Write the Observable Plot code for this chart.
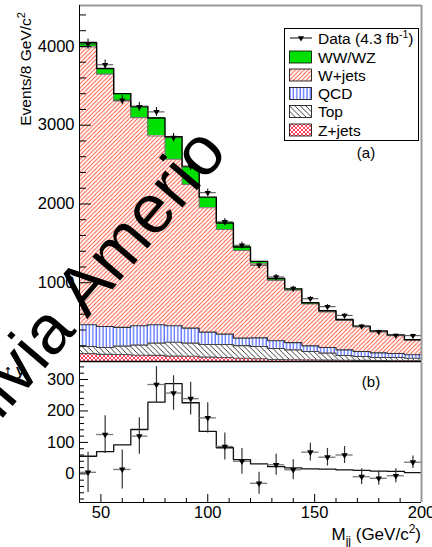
<!DOCTYPE html>
<html><head><meta charset="utf-8">
<script src="https://cdn.jsdelivr.net/npm/d3@7"></script>
<script src="https://cdn.jsdelivr.net/npm/@observablehq/plot@0.6"></script>
<style>
html,body{margin:0;padding:0;background:#fff;}
#wrap{position:relative;width:432px;height:547px;overflow:hidden;font-family:"Liberation Sans",Arial,Helvetica,sans-serif;}
#top,#bot{position:absolute;left:0;}
#top{top:0;}
#bot{top:361px;}
#wm{position:absolute;left:0;top:0;pointer-events:none;}
</style></head><body>
<div id="wrap"><div id="top"></div><div id="bot"></div>
<svg id="wm" width="432" height="547"><text transform="translate(229,153) rotate(-49.5)" text-anchor="end" font-size="69" font-family="Liberation Sans, Arial, sans-serif" fill="#000">Olivia Amerio</text></svg>
</div>
<script>
// ---------------- data ----------------
const binEdges = [40,48,56,64,72,80,88,96,104,112,120,128,136,144,152,160,168,176,184,192,200];
const zJets    = [100, 90, 88, 80, 78, 68, 66, 56, 50, 42, 34, 25, 22, 20, 18, 16, 14, 12, 10, 8];
const topQuark = [91, 88, 107, 128, 155, 176, 167, 160, 166, 159, 157, 140, 126, 107, 88, 60, 50, 39, 41, 34];
const qcd      = [276, 267, 238, 246, 234, 210, 191, 157, 132, 96, 109, 98, 92, 72, 72, 72, 63, 59, 51, 43];
const wJets    = [3528, 3204, 2876, 2643, 2397, 2113, 1825, 1579, 1328, 1112, 939, 767, 665, 531, 452, 372, 311, 268, 226, 188];
const wwwz     = [56, 71, 92, 141, 228, 287, 226, 135, 83, 45, 32, 23, 19, 16, 15, 13, 11, 9, 8, 4];
const dataTop  = [4030, 3767, 3318, 3233, 3169, 2843, 2478, 2143, 1773, 1476, 1222, 1073, 925, 797, 696, 585, 447, 378, 330, 328];
const dataErr  = [64, 61, 58, 57, 56, 53, 50, 46, 42, 38, 35, 33, 30, 28, 26, 24, 21, 19, 18, 18];
const dataSub  = [5, 125, 14, 120, 284, 257, 239, 178, 87, 40, -30, 29, 13, 69, 53, 60, -9, -14, -6, 37];
const dataSubErr = [64, 60, 62, 58, 57, 55, 52, 48, 43, 41, 35, 33, 32, 28, 28, 27, 25, 22, 22, 20];
const yTicksTop = [1000, 2000, 3000, 4000];
const yTicksBot = [0, 100, 200, 300];
const xTicks = [50, 100, 150, 200];

const FONT = '"Liberation Sans", Arial, Helvetica, sans-serif';
const PATTERNS = `
<pattern id="pWJ" patternUnits="userSpaceOnUse" width="4.2" height="4.2">
<path d="M0,4.2 L4.2,0 M-1,1 L1,-1 M3.2,5.2 L5.2,3.2" stroke="#ff4a30" stroke-width="0.9" fill="none"/>
</pattern>
<pattern id="pQCD" patternUnits="userSpaceOnUse" width="3.4" height="4">
<path d="M1,0 L1,4" stroke="#2a48ff" stroke-width="1" fill="none"/>
</pattern>
<pattern id="pTop" patternUnits="userSpaceOnUse" width="5.4" height="5.4">
<path d="M0,0 L5.4,5.4 M-1,4.4 L1,6.4 M4.4,-1 L6.4,1" stroke="#222" stroke-width="0.9" fill="none"/>
</pattern>
<pattern id="pZ" patternUnits="userSpaceOnUse" width="4" height="4">
<path d="M0,0 L4,4 M0,4 L4,0 M-1,1 L1,-1 M3,5 L5,3 M-1,3 L1,5 M3,-1 L5,1" stroke="#ff2040" stroke-width="0.85" fill="none"/>
</pattern>`;
const triDown = {draw(ctx, size){ const s = Math.sqrt(size*4/Math.sqrt(3)); const h = s*Math.sqrt(3)/2;
  ctx.moveTo(-s/2, -h/3); ctx.lineTo(s/2, -h/3); ctx.lineTo(0, 2*h/3); ctx.closePath(); }};

const layers = [
  {name:"Z+jets", values:zJets, fill:"url(#pZ)", stroke:"#555"},
  {name:"Top", values:topQuark, fill:"url(#pTop)", stroke:"#444"},
  {name:"QCD", values:qcd, fill:"url(#pQCD)", stroke:"#333"},
  {name:"W+jets", values:wJets, fill:"url(#pWJ)", stroke:"#777"},
  {name:"WW/WZ", values:wwwz, fill:"#00e000", stroke:"#000"}
];
let base = wwwz.map(() => 0);
const fillMarks = [], lineMarks = [];
for (const L of layers) {
  const rows = L.values.map((v, i) => ({x1: binEdges[i], x2: binEdges[i+1], y1: base[i], y2: base[i] + v}));
  base = rows.map(r => r.y2);
  fillMarks.push(Plot.rect(rows, {x1:"x1", x2:"x2", y1:"y1", y2:"y2", fill:L.fill, shapeRendering:"crispEdges"}));
  const pts = rows.map(r => ({x:r.x1, y:r.y2}));
  pts.push({x: rows[rows.length-1].x2, y: rows[rows.length-1].y2});
  lineMarks.push(Plot.line(pts, {x:"x", y:"y", curve:"step-after", stroke:L.stroke, strokeWidth: L.name==="WW/WZ" ? 1.4 : 1.1}));
}
const topRows = dataTop.map((v, i) => ({x:(binEdges[i]+binEdges[i+1])/2, x1:binEdges[i], x2:binEdges[i+1], y:v, e:dataErr[i]}));
const subRows = dataSub.map((v, i) => ({x:(binEdges[i]+binEdges[i+1])/2, x1:binEdges[i], x2:binEdges[i+1], y:v, e:dataSubErr[i]}));
const wwPts = wwwz.map((v, i) => ({x:binEdges[i], y:v}));
wwPts.push({x: binEdges[binEdges.length-1], y: wwwz[wwwz.length-1]});
const fmt = d3.format("d");

const topPlot = Plot.plot({
  width: 432, height: 362,
  marginLeft: 79, marginRight: 11, marginTop: 5, marginBottom: 1,
  x: {domain: [40, 200], axis: null},
  y: {domain: [0, 4520]},
  style: {fontFamily: FONT, fontSize: "16.5px", background: "white", overflow: "visible", color: "black"},
  marks: [
    ...fillMarks,
    ...lineMarks,
    Plot.ruleY(topRows, {x1:"x1", x2:"x2", y:"y", stroke:"#444", strokeWidth:1}),
    Plot.ruleX(topRows, {x:"x", y1: d => d.y - d.e, y2: d => d.y + d.e, stroke:"#000", strokeWidth:1}),
    Plot.dot(topRows, {x:"x", y:"y", symbol: triDown, r: 2.3, fill:"black", stroke:"none"}),
    Plot.axisY(yTicksTop, {tickSize: -12, tickPadding: 17, anchor: "left", stroke:"black", fill:"black", fontSize: 16.5, tickFormat: fmt}),
    Plot.axisY(d3.range(200, 4520, 200).filter(v => v % 1000), {tickSize: -7, anchor:"left", tickFormat: () => "", stroke:"black"}),
    Plot.ruleX([200], {stroke:"#999", strokeWidth: 2}),
    Plot.ruleY([4520], {stroke:"#999", strokeWidth: 2}),
    Plot.ruleX([40], {stroke:"#000", strokeWidth: 1}),
    Plot.ruleY([0], {stroke:"#000", strokeWidth: 1.5})
  ]
});

const botPlot = Plot.plot({
  width: 432, height: 186,
  marginLeft: 79, marginRight: 11, marginTop: 1, marginBottom: 45,
  x: {domain: [40, 200]},
  y: {domain: [-91, 354]},
  style: {fontFamily: FONT, fontSize: "16.5px", background: "none", overflow: "visible", color: "black"},
  marks: [
    Plot.line(wwPts, {x:"x", y:"y", curve:"step-after", stroke:"#111", strokeWidth:1.3}),
    Plot.ruleY(subRows, {x1:"x1", x2:"x2", y:"y", stroke:"#777", strokeWidth:1.3}),
    Plot.ruleX(subRows, {x:"x", y1: d => d.y - d.e, y2: d => d.y + d.e, stroke:"#333", strokeWidth:1.2}),
    Plot.dot(subRows, {x:"x", y:"y", symbol: triDown, r: 2.4, fill:"black", stroke:"none"}),
    Plot.axisY(yTicksBot, {tickSize: -9, tickPadding: 14, anchor:"left", stroke:"black", fill:"black", fontSize: 16.5, tickFormat: fmt}),
    Plot.axisY(d3.range(-80, 354, 20).filter(v => v % 100), {tickSize: -5, anchor:"left", tickFormat: () => "", stroke:"black"}),
    Plot.axisX(xTicks, {tickSize: -8, tickPadding: 12, anchor:"bottom", stroke:"black", fill:"black", fontSize: 16.5, tickFormat: fmt}),
    Plot.axisX(d3.range(40, 201, 10).filter(v => v % 50), {tickSize: -4, anchor:"bottom", tickFormat: () => "", stroke:"black"}),
    Plot.ruleX([200], {stroke:"#999", strokeWidth: 2}),
    Plot.ruleX([40], {stroke:"#000", strokeWidth: 1}),
    Plot.ruleY([-91], {stroke:"#000", strokeWidth: 1.2})
  ]
});

const ts = d3.select(topPlot);
ts.insert("defs", ":first-child").html(PATTERNS);
document.getElementById("top").appendChild(topPlot);
document.getElementById("bot").appendChild(botPlot);

// ---------- titles, labels, legend ----------
const yt = ts.append("text").attr("transform", "translate(31,12) rotate(-90)").attr("text-anchor", "end")
  .attr("font-family", FONT).attr("font-size", 15.5).attr("fill", "#000");
yt.append("tspan").text("Events/8 GeV/c");
yt.append("tspan").attr("dy", -6).attr("font-size", 11).text("2");

ts.append("text").attr("x", 366).attr("y", 158).attr("text-anchor", "middle")
  .attr("font-family", FONT).attr("font-size", 15).text("(a)");

const lg = ts.append("g").attr("font-family", FONT).attr("font-size", 15.5).attr("text-anchor", "start").attr("fill", "#000");
lg.append("rect").attr("x", 284.5).attr("y", 28.5).attr("width", 134).attr("height", 112)
  .attr("fill", "white").attr("stroke", "#000").attr("stroke-width", 1);
const legendItems = [
  {label: "Data", fill: null},
  {label: "WW/WZ", fill: "#00e000"},
  {label: "W+jets", fill: "url(#pWJ)"},
  {label: "QCD", fill: "url(#pQCD)"},
  {label: "Top", fill: "url(#pTop)"},
  {label: "Z+jets", fill: "url(#pZ)"}
];
const rowY = [38, 57, 75, 93.5, 111.5, 130];
legendItems.forEach((it, i) => {
  const cy = rowY[i];
  if (it.fill === null) {
    lg.append("line").attr("x1", 290).attr("x2", 312).attr("y1", cy).attr("y2", cy).attr("stroke", "#000");
    lg.append("path").attr("transform", `translate(301,${cy})`).attr("d", d3.symbol(triDown, 2.3*2.3*Math.PI)()).attr("fill", "#000");
    const t = lg.append("text").attr("x", 318).attr("y", cy + 5.5);
    t.append("tspan").text("Data (4.3 fb");
    t.append("tspan").attr("dy", -6).attr("font-size", 10.5).text("-1");
    t.append("tspan").attr("dy", 6).text(")");
  } else {
    lg.append("rect").attr("x", 289.5).attr("y", cy - 6).attr("width", 22).attr("height", 12)
      .attr("fill", it.fill).attr("stroke", "#000").attr("stroke-width", 0.8);
    lg.append("text").attr("x", 318).attr("y", cy + 5.5).text(it.label);
  }
});

const bs = d3.select(botPlot);
bs.append("text").attr("x", 371).attr("y", 26).attr("text-anchor", "middle")
  .attr("font-family", FONT).attr("font-size", 15).text("(b)");
const xt = bs.append("text").attr("x", 421).attr("y", 179).attr("text-anchor", "end")
  .attr("font-family", FONT).attr("font-size", 17).attr("fill", "#000");
xt.append("tspan").text("M");
xt.append("tspan").attr("dy", 5).attr("font-size", 12).text("jj");
xt.append("tspan").attr("dy", -5).text(" (GeV/c");
xt.append("tspan").attr("dy", -7).attr("font-size", 12).text("2");
xt.append("tspan").attr("dy", 7).text(")");
</script>
</body></html>
